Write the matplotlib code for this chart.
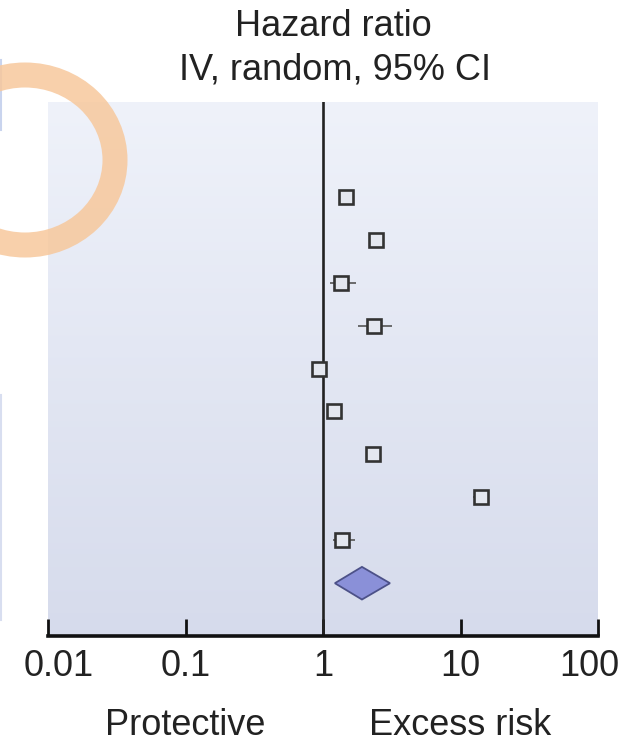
#!/usr/bin/env python3
"""Forest plot: hazard ratios (IV, random, 95% CI) on a log axis."""

import matplotlib

matplotlib.use("Agg")
import matplotlib.pyplot as plt
import numpy as np
from matplotlib.patches import Ellipse, Polygon
from matplotlib.transforms import ScaledTranslation, blended_transform_factory

plt.rcParams["font.family"] = ["Liberation Sans", "DejaVu Sans"]

# study-level hazard ratios, top to bottom
hr = [1.47, 2.43, 1.35, 2.35, 0.94, 1.20, 2.31, 14.1, 1.37]
ci_low = [1.30, 2.15, 1.12, 1.80, 0.84, 1.07, 2.05, 12.4, 1.18]
ci_high = [1.66, 2.74, 1.74, 3.18, 1.05, 1.34, 2.60, 16.0, 1.71]

# pooled estimate (diamond)
pooled_hr = 1.92
pooled_low = 1.22
pooled_high = 3.07

ticks = [0.01, 0.1, 1, 10, 100]
tick_labels = ["0.01", "0.1", "1", "10", "100"]
title_lines = ["Hazard ratio", "IV, random, 95% CI"]
side_labels = [(0.1, "Protective"), (10, "Excess risk")]

W, H = 636, 744
TEXT = "#222222"
FS = 26

fig = plt.figure(figsize=(W / 100, H / 100), dpi=100)
ax = fig.add_axes([48 / W, 1 - 636 / H, 550 / W, 534 / H])

# soft vertical gradient for the panel background
grad = np.linspace(0, 1, 256).reshape(-1, 1)
top = np.array([0.937, 0.949, 0.980])
bot = np.array([0.839, 0.859, 0.925])
img = top + (bot - top) * grad[..., None]
ax.imshow(img, extent=[0, 1, 0, 1], transform=ax.transAxes, aspect="auto",
          origin="upper", zorder=0)

ax.set_xscale("log")
ax.set_xlim(0.01, 100)
n = len(hr)
ax.set_ylim(n + 1.23, -2.21)

ax.axvline(1, color=TEXT, lw=1.9, zorder=2)

ys = np.arange(n)
ax.hlines(ys, ci_low, ci_high, color="#555555", lw=1.2, zorder=3)
ax.plot(hr, ys, ls="none", marker="s", ms=10.5, mfc="#e4e7ef", mec="#333333",
        mew=1.9, zorder=4)

yd = n
dh = 0.38
diamond = Polygon(
    [(pooled_low, yd), (pooled_hr, yd - dh), (pooled_high, yd), (pooled_hr, yd + dh)],
    closed=True, facecolor="#8a90d8", edgecolor="#4c5188", lw=1.3, zorder=4,
)
ax.add_patch(diamond)

for side in ["top", "left", "right"]:
    ax.spines[side].set_visible(False)
ax.spines["bottom"].set_linewidth(2.6)
ax.spines["bottom"].set_color("#111111")

ax.set_xticks(ticks)
ax.set_xticklabels(tick_labels)
ax.xaxis.set_minor_locator(matplotlib.ticker.NullLocator())
ax.tick_params(axis="x", direction="in", length=12, width=2.0, colors="#111111",
               labelsize=FS, labelcolor=TEXT, pad=9)
ax.set_yticks([])

# end labels sit a little inside the frame
labels = ax.get_xticklabels()
labels[0].set_transform(labels[0].get_transform()
                        + ScaledTranslation(11 / 100, 0, fig.dpi_scale_trans))
labels[-1].set_transform(labels[-1].get_transform()
                         + ScaledTranslation(-9 / 100, 0, fig.dpi_scale_trans))

# headings
fig.text(333 / W, 1 - 36 / H, title_lines[0], ha="center", va="baseline",
         fontsize=FS, color=TEXT)
fig.text(335 / W, 1 - 80 / H, title_lines[1], ha="center", va="baseline",
         fontsize=FS, color=TEXT)

trans = blended_transform_factory(ax.transData, fig.transFigure)
for xv, lab in side_labels:
    ax.text(xv, 1 - 735 / H, lab, transform=trans, ha="center", va="baseline",
            fontsize=FS, color=TEXT, clip_on=False)

# hand-drawn highlight ring at the top left
ring = Ellipse((25 / W, 1 - 160 / H), width=180 / W, height=170 / H,
               transform=fig.transFigure, fill=False, edgecolor="#f7c89c",
               lw=18, alpha=0.85, zorder=10)
fig.patches.append(ring)

# thin blue edge marks at the left border
fig.add_artist(plt.Line2D([1 / W, 1 / W], [1 - 60 / H, 1 - 130 / H],
                          transform=fig.transFigure, color="#c9d4ee", lw=1.5))
fig.add_artist(plt.Line2D([1 / W, 1 / W], [1 - 395 / H, 1 - 620 / H],
                          transform=fig.transFigure, color="#d8def0", lw=1.5))

fig.savefig("out.png", dpi=100)
